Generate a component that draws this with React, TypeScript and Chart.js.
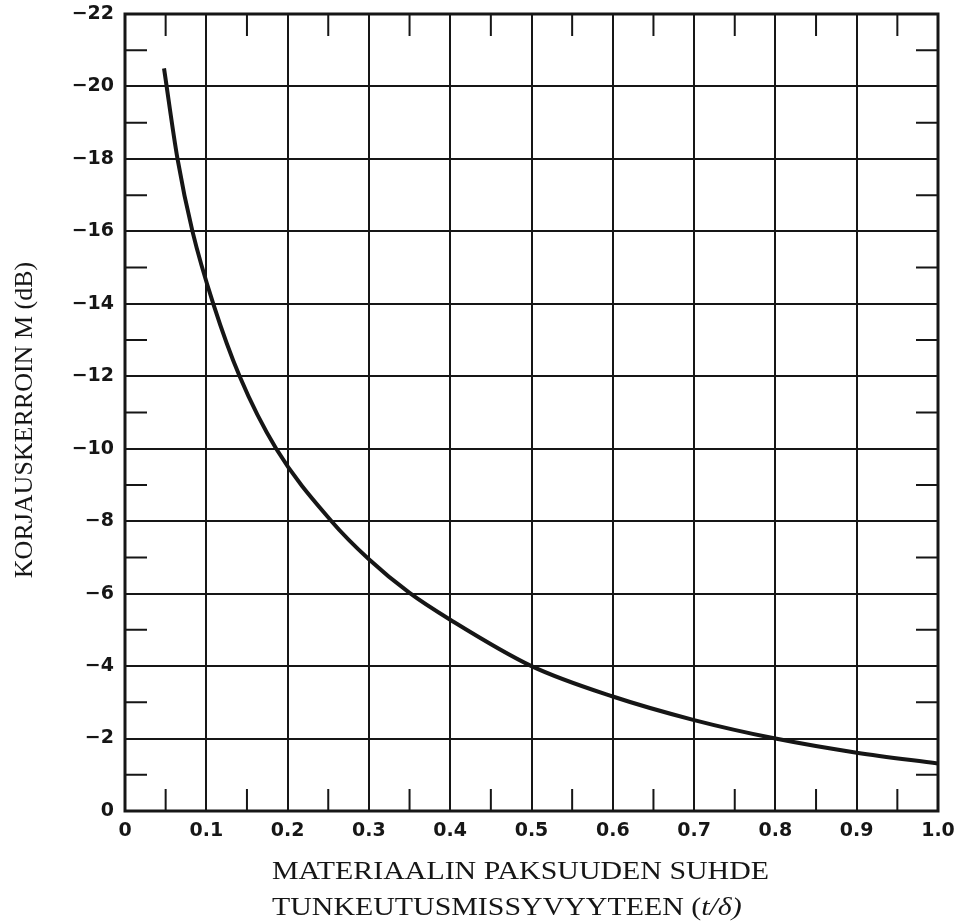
import { useEffect, useRef } from 'react';
import { Chart, registerables } from 'chart.js';

Chart.register(...registerables);

// t/δ (material thickness / penetration depth)
const thicknessRatio = [0.048, 0.0646, 0.083, 0.1086, 0.141, 0.186, 0.254, 0.3, 0.35, 0.4, 0.5, 0.6, 0.7, 0.8, 0.9, 1.0];
// correction factor M (dB)
const correctionM = [-20.5, -18, -16, -14, -12, -10, -8, -6.95, -6.02, -5.28, -4, -3.16, -2.51, -2.0, -1.61, -1.31];

const xTickValues = [0, 0.1, 0.2, 0.3, 0.4, 0.5, 0.6, 0.7, 0.8, 0.9, 1.0];
const yTickValues = [0, -2, -4, -6, -8, -10, -12, -14, -16, -18, -20, -22];
const xMinorTicks = [0.05, 0.15, 0.25, 0.35, 0.45, 0.55, 0.65, 0.75, 0.85, 0.95];
const yMinorTicks = [-1, -3, -5, -7, -9, -11, -13, -15, -17, -19, -21];

const yAxisTitle = 'KORJAUSKERROIN M (dB)';
const xTitleLine1 = 'MATERIAALIN PAKSUUDEN SUHDE';
const xTitleLine2 = 'TUNKEUTUSMISSYVYYTEEN (';
const xTitleItalic = 't/δ)';

const INK = '#161616';

const framePlugin = {
  id: 'frame',
  beforeDatasetsDraw(chart: any) {
    const { ctx, chartArea: a, scales } = chart;
    const len = 22;
    ctx.save();
    ctx.strokeStyle = INK;
    ctx.lineWidth = 2;
    ctx.beginPath();
    xMinorTicks.forEach((v) => {
      const x = scales.x.getPixelForValue(v);
      ctx.moveTo(x, a.bottom);
      ctx.lineTo(x, a.bottom - len);
      ctx.moveTo(x, a.top);
      ctx.lineTo(x, a.top + len);
    });
    yMinorTicks.forEach((v) => {
      const y = scales.y.getPixelForValue(v);
      ctx.moveTo(a.left, y);
      ctx.lineTo(a.left + len, y);
      ctx.moveTo(a.right, y);
      ctx.lineTo(a.right - len, y);
    });
    ctx.stroke();
    ctx.lineWidth = 3;
    ctx.strokeRect(a.left, a.top, a.right - a.left, a.bottom - a.top);
    ctx.restore();
  },
};

const titlePlugin = {
  id: 'titles',
  afterDraw(chart: any) {
    const { ctx } = chart;
    ctx.save();
    ctx.fillStyle = INK;
    ctx.textBaseline = 'alphabetic';
    // x-axis title (two lines)
    ctx.font = '25px "Liberation Serif", "Times New Roman", serif';
    ctx.textAlign = 'left';
    const w1 = ctx.measureText(xTitleLine1).width;
    const sx = 497 / w1;
    ctx.save();
    ctx.translate(272, 879);
    ctx.scale(sx, 1);
    ctx.fillText(xTitleLine1, 0, 0);
    ctx.restore();
    ctx.save();
    ctx.translate(272, 915);
    ctx.scale(sx, 1);
    ctx.fillText(xTitleLine2, 0, 0);
    const w2 = ctx.measureText(xTitleLine2).width;
    ctx.font = 'italic 25px "Liberation Serif", "Times New Roman", serif';
    ctx.fillText(xTitleItalic, w2, 0);
    ctx.restore();
    // y-axis title
    ctx.font = '26px "Liberation Serif", "Times New Roman", serif';
    ctx.textAlign = 'center';
    ctx.save();
    ctx.translate(32, 420);
    ctx.rotate(-Math.PI / 2);
    ctx.fillText(yAxisTitle, 0, 0);
    ctx.restore();
    ctx.restore();
  },
};

export default function App() {
  const canvasRef = useRef<HTMLCanvasElement | null>(null);

  useEffect(() => {
    document.body.style.margin = '0';
    const canvas = canvasRef.current;
    if (!canvas) return;
    const tickFont = { family: '"DejaVu Sans", Arial, sans-serif', size: 19, weight: 'bold' as const };
    const chart = new Chart(canvas, {
      type: 'line',
      data: {
        datasets: [
          {
            data: thicknessRatio.map((x, i) => ({ x, y: correctionM[i] })),
            borderColor: INK,
            borderWidth: 4,
            pointRadius: 0,
            fill: false,
            cubicInterpolationMode: 'monotone',
          },
        ],
      },
      options: {
        responsive: false,
        animation: false,
        layout: { padding: { top: 14, right: 25, left: 0, bottom: 0 } },
        plugins: { legend: { display: false }, tooltip: { enabled: false }, title: { display: false } },
        scales: {
          x: {
            type: 'linear',
            min: 0,
            max: 1,
            afterBuildTicks: (scale: any) => {
              scale.ticks = xTickValues.map((v) => ({ value: v }));
            },
            afterFit: (scale: any) => {
              scale.height = 110;
              scale.paddingLeft = 0;
              scale.paddingRight = 0;
            },
            ticks: {
              autoSkip: false,
              maxRotation: 0,
              padding: 9,
              color: INK,
              font: tickFont,
              callback: (v: any) => (Number(v) === 0 ? '0' : Number(v).toFixed(1)),
            },
            grid: { color: INK, lineWidth: 2, drawTicks: false },
            border: { display: false },
          },
          y: {
            type: 'linear',
            min: -22,
            max: 0,
            reverse: true,
            afterBuildTicks: (scale: any) => {
              scale.ticks = yTickValues.map((v) => ({ value: v }));
            },
            afterFit: (scale: any) => {
              scale.width = 125;
              scale.paddingTop = 0;
              scale.paddingBottom = 0;
            },
            ticks: {
              autoSkip: false,
              padding: 11,
              color: INK,
              font: tickFont,
              callback: (v: any) => (Number(v) === 0 ? '0' : '\u2212' + Math.abs(Number(v))),
            },
            grid: { color: INK, lineWidth: 2, drawTicks: false },
            border: { display: false },
          },
        },
      },
      plugins: [framePlugin, titlePlugin],
    });
    return () => chart.destroy();
  }, []);

  return (
    <div style={{ width: 963, height: 921, background: '#fff' }}>
      <canvas ref={canvasRef} width={963} height={921} style={{ display: 'block', width: 963, height: 921 }} />
    </div>
  );
}
